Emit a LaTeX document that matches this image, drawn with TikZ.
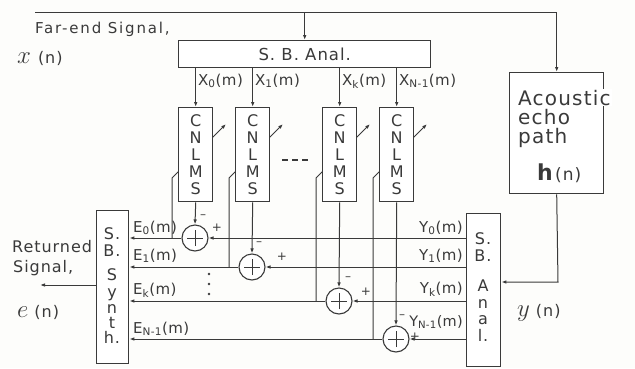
\documentclass[tikz,border=0pt]{standalone}
\usepackage{fontspec}
\setmainfont{DejaVu Sans}[LetterSpace=6]
\usetikzlibrary{arrows.meta}
\definecolor{ink}{HTML}{3A3A3A}
\definecolor{paper}{HTML}{FDFDFB}
\begin{document}
\begin{tikzpicture}[x=1pt,y=-1pt,
  ln/.style={draw=ink, line width=1pt},
  arr/.style={-{Latex[length=5pt,width=3.6pt]}},
  blk/.style={draw=ink, line width=1.4pt, fill=white, inner sep=0pt, text=ink},
  cnl/.style={blk, minimum width=34pt, minimum height=94pt, anchor=north west, align=center,
              font=\fontsize{16}{17}\selectfont},
  sum/.style={circle, draw=ink, line width=1.1pt, fill=white, minimum size=26pt, inner sep=0pt},
  lbl/.style={text=ink, inner sep=0pt, font=\fontsize{15}{15}\selectfont\addfontfeature{LetterSpace=3}},
  sgn/.style={text=ink, inner sep=0pt, font=\fontsize{12}{12}\selectfont},
  let/.style={text=ink, inner sep=0pt, anchor=base, font=\fontsize{16}{16}\selectfont}]
\fill[paper] (0,0) rectangle (635,368);
\useasboundingbox (0,0) rectangle (635,368);

% far-end input line
\coordinate (xin) at (35,12);
\node[text=ink, inner sep=0pt, anchor=base west, font=\fontsize{15}{15}\selectfont\addfontfeature{LetterSpace=12}] (fes) at (35,33) {Far-end Signal,};
\node[text=ink, inner sep=0pt, anchor=base west] (xn) at (17,63) {\fontsize{26}{26}\selectfont$x$\hspace{7pt}\fontsize{16}{16}\selectfont(n)};

% S.B. analysis (top)
\node[blk, minimum width=252pt, minimum height=27pt, anchor=north west, font=\fontsize{16.5}{16.5}\selectfont] (anal) at (178,40) {S. B. Anal.};

% adaptation feed lines (drawn before the filter boxes)
\coordinate (f1) at (172,238);
\coordinate (f2) at (229,267);
\coordinate (f3) at (316,301);
\coordinate (f4) at (373,339);
\foreach \f in {f1,f2,f3,f4}
  \draw[ln,arr] (\f) -- (\f |- 0,178) -- ++(54,-54);

% CNLMS filters
\node[cnl] (b1) at (178,107) {C\\N\\L\\M\\S};
\node[cnl] (b2) at (235,107) {C\\N\\L\\M\\S};
\node[cnl] (b3) at (322,107) {C\\N\\L\\M\\S};
\node[cnl] (b4) at (379,107) {C\\N\\L\\M\\S};

\foreach \b in {b1,b2,b3,b4}
  \draw[ln,arr] (anal.south -| \b.north) -- (\b.north);

\node[lbl, anchor=base west] at (198,85) {X\textsubscript{0}(m)};
\node[lbl, anchor=base west] at (255,85) {X\textsubscript{1}(m)};
\node[lbl, anchor=base west] at (342,85) {X\textsubscript{k}(m)};
\node[lbl, anchor=base west] at (399,85) {X\textsubscript{N-1}(m)};

% dots
\foreach \xx in {282,292,302}
  \draw[ink, line width=2pt] (\xx,160) -- ++(6,0);
\foreach \yy in {274,284,294}
  \fill[ink] (209,\yy) circle (1.4pt);

% acoustic echo path
\node[blk, minimum width=94pt, minimum height=121pt, anchor=north west] (ac) at (509,72) {};
\node[text=ink, inner sep=1pt, fill=white, anchor=base west, font=\fontsize{20}{20}\selectfont] (t1) at (517,105) {Acoustic};
\node[text=ink, inner sep=0pt, anchor=base west, font=\fontsize{20}{20}\selectfont] (t2) at (518,124) {echo};
\node[text=ink, inner sep=0pt, anchor=base west, font=\fontsize{20}{20}\selectfont] (t3) at (518,143) {path};
\node[text=ink, inner sep=0pt, anchor=base west] (t4) at (537,180) {\fontsize{22}{22}\selectfont\textbf{h}\hspace{1pt}\fontsize{17}{17}\selectfont(n)};

\draw[ln,arr] (xin) -| (ac.north);
\draw[ln,arr] (anal.north |- xin) -- (anal.north);

% S.B. analysis (right)
\node[blk, minimum width=34pt, minimum height=153pt, anchor=north west] (ranal) at (466,213) {};
\node[let] at (483,244) {S.};
\node[let] at (483,261) {B.};
\node[let] at (483,291) {A};
\node[let] at (483,308) {n};
\node[let] at (483,324) {a};
\node[let] at (483,341) {l.};
\coordinate (ech) at (558,282);
\draw[ln,arr] (ac.south) -- (ech) -- (ranal.east |- ech);
\node[text=ink, inner sep=0pt, anchor=base west] (yn) at (517,316) {\fontsize{26}{26}\selectfont$y$\hspace{6pt}\fontsize{16}{16}\selectfont(n)};

% S.B. synthesis (left)
\node[blk, minimum width=32pt, minimum height=153pt, anchor=north west] (syn) at (96,210) {};
\node[let] at (112,239) {S.};
\node[let] at (112,256) {B.};
\node[let] at (112,280) {S};
\node[let] at (112,297) {y};
\node[let] at (112,313) {n};
\node[let] at (112,328) {t};
\node[let] at (112,343) {h.};

% summing junctions
\node[sum] (s1) at (195,238) {};
\node[sum] (s2) at (252,267) {};
\node[sum] (s3) at (339,301) {};
\node[sum] (s4) at (396,339) {};
\foreach \s in {s1,s2,s3,s4}{
  \draw[ink, line width=1pt] ([xshift=-8pt]\s.center) -- ([xshift=8pt]\s.center);
  \draw[ink, line width=1pt] ([yshift=-8pt]\s.center) -- ([yshift=8pt]\s.center);
}
\foreach \b/\s in {b1/s1,b2/s2,b3/s3,b4/s4}
  \draw[ln,arr] (\b.south) -- (\s.north);
\foreach \s in {s1,s2,s3,s4}{
  \draw[ln,arr] (ranal.west |- \s.east) -- (\s.east);
  \draw[ln,arr] (\s.west) -- (syn.east |- \s.west);
}

% signs
\node[sgn] at (203,217) {–};
\node[sgn] at (217,228) {+};
\node[sgn] at (259,244) {–};
\node[sgn] at (282,257) {+};
\node[sgn] at (348,279) {–};
\node[sgn] at (366,292) {+};
\node[sgn] at (402,317) {–};
\node[sgn] at (415,337) {+};

% E labels
\node[lbl, anchor=base west] at (133,232) {E\textsubscript{0}(m)};
\node[lbl, anchor=base west] at (133,260) {E\textsubscript{1}(m)};
\node[lbl, anchor=base west] at (133,294) {E\textsubscript{k}(m)};
\node[lbl, anchor=base west] at (133,333) {E\textsubscript{N-1}(m)};
% Y labels
\node[lbl, anchor=base east] at (463,232) {Y\textsubscript{0}(m)};
\node[lbl, anchor=base east] at (463,260) {Y\textsubscript{1}(m)};
\node[lbl, anchor=base east] at (463,293) {Y\textsubscript{k}(m)};
\node[lbl, anchor=base east, font=\fontsize{14.5}{14.5}\selectfont\addfontfeature{LetterSpace=2}] at (463,326) {Y\textsubscript{N-1}(m)};

% returned signal
\coordinate (eout) at (40,285);
\draw[ln,arr] (syn.west |- eout) -- (eout);
\node[text=ink, inner sep=0pt, anchor=base west, font=\fontsize{16}{16}\selectfont] (rs1) at (12,252) {Returned};
\node[text=ink, inner sep=0pt, anchor=base west, font=\fontsize{16}{16}\selectfont] (rs2) at (13,272) {Signal,};
\node[text=ink, inner sep=0pt, anchor=base west] (en) at (17,317) {\fontsize{26}{26}\selectfont$e$\hspace{6pt}\fontsize{16}{16}\selectfont(n)};
\end{tikzpicture}
\end{document}
